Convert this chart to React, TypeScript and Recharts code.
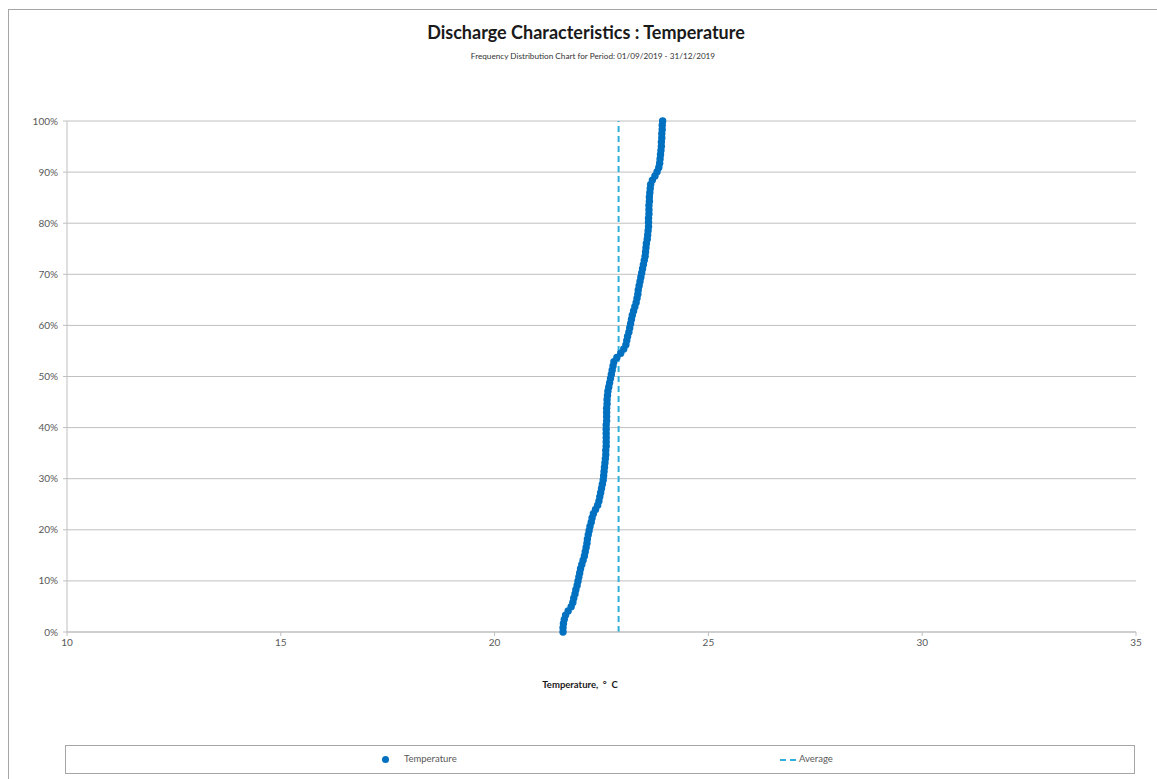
import {
  ScatterChart,
  Scatter,
  XAxis,
  YAxis,
  CartesianGrid,
  ReferenceLine,
} from "recharts";

const DOT    = "#0070c0";
const AVG    = "#2fb0da";
const GRID   = "#c0c0c0";
const AXIS   = "#bfbfbf";
const TEXT   = "#595959";
const FONT   = "Lato, 'Open Sans', sans-serif";

// sorted daily temperatures, 01/09/2019 - 31/12/2019
const TEMPS = [
  21.60, 21.60, 21.61, 21.63, 21.66, 21.72, 21.79, 21.83, 21.85, 21.88,
  21.90, 21.93, 21.95, 21.97, 21.99, 22.01, 22.04, 22.07, 22.10, 22.12,
  22.14, 22.16, 22.17, 22.19, 22.21, 22.23, 22.26, 22.28, 22.31, 22.36,
  22.41, 22.44, 22.46, 22.48, 22.50, 22.52, 22.54, 22.55, 22.56, 22.57,
  22.58, 22.59, 22.60, 22.60, 22.61, 22.61, 22.61, 22.61, 22.61, 22.61,
  22.62, 22.62, 22.62, 22.62, 22.63, 22.63, 22.64, 22.65, 22.67, 22.69,
  22.71, 22.73, 22.75, 22.77, 22.79, 22.86, 22.95, 23.02, 23.07, 23.09,
  23.11, 23.14, 23.16, 23.18, 23.20, 23.22, 23.25, 23.28, 23.31, 23.33,
  23.35, 23.36, 23.38, 23.40, 23.42, 23.44, 23.46, 23.48, 23.50, 23.52,
  23.53, 23.54, 23.55, 23.57, 23.58, 23.59, 23.60, 23.60, 23.60, 23.61,
  23.61, 23.61, 23.62, 23.62, 23.63, 23.64, 23.65, 23.69, 23.75, 23.80,
  23.84, 23.86, 23.87, 23.88, 23.89, 23.90, 23.90, 23.91, 23.91, 23.92,
  23.92, 23.93,
];
const AVERAGE = 22.9;

const X_TICKS = [10, 15, 20, 25, 30, 35];
const Y_TICKS = [0, 0.1, 0.2, 0.3, 0.4, 0.5, 0.6, 0.7, 0.8, 0.9, 1];

// cumulative frequency: rank of each sorted reading
const points = TEMPS.map((t, i) => ({ temp: t, freq: i / (TEMPS.length - 1) }));

function Dot(props: any) {
  const { cx, cy } = props;
  if (cx == null || cy == null) return null;
  return <circle cx={cx} cy={cy} r={3.7} fill={DOT} />;
}

function LegendBox() {
  return (
    <div style={{
      position: "absolute", left: 65, top: 745, width: 1070, height: 29,
      border: "1px solid #a6a6a6", boxSizing: "border-box",
      fontFamily: FONT, fontSize: 9.5, color: TEXT,
    }}>
      <span style={{ position: "absolute", left: 316, top: 10, width: 7, height: 7, borderRadius: 4, background: DOT }} />
      <span style={{ position: "absolute", left: 338, top: 7 }}>Temperature</span>
      <svg style={{ position: "absolute", left: 714, top: 12 }} width={20} height={4}>
        <line x1={0} y1={2} x2={20} y2={2} stroke={AVG} strokeWidth={2} strokeDasharray="6 4" />
      </svg>
      <span style={{ position: "absolute", left: 733, top: 7 }}>Average</span>
    </div>
  );
}

export default function App() {
  return (
    <div style={{ position: "absolute", left: 0, top: 0, width: 1157, height: 779, overflow: "hidden", background: "#fff" }}>
      {/* outer frame, cut off on the right and bottom */}
      <div style={{ position: "absolute", left: 8, top: 9, width: 1149, height: 770, borderLeft: "1px solid #a6a6a6", borderTop: "1px solid #a6a6a6" }} />

      <div style={{ position: "absolute", left: 0, top: 21, width: 1172, textAlign: "center", fontFamily: FONT, fontWeight: 700, fontSize: 18, color: "#1a1a1a" }}>
        Discharge Characteristics : Temperature
      </div>
      <div style={{ position: "absolute", left: 0, top: 51, width: 1186, textAlign: "center", fontFamily: FONT, fontSize: 8.2, color: "#333333" }}>
        Frequency Distribution Chart for Period: 01/09/2019 - 31/12/2019
      </div>

      <div style={{ position: "absolute", left: 0, top: 0 }}>
        <ScatterChart width={1157} height={779} margin={{ top: 121, right: 21, bottom: 117, left: 17 }}>
          <CartesianGrid stroke={GRID} vertical={false} />
          <XAxis
            type="number"
            dataKey="temp"
            domain={[10, 35]}
            ticks={X_TICKS}
            allowDataOverflow
            height={30}
            stroke={AXIS}
            tickSize={4}
            tickMargin={3}
            tick={{ fill: TEXT, fontSize: 10, fontFamily: FONT }}
          />
          <YAxis
            type="number"
            dataKey="freq"
            domain={[0, 1]}
            ticks={Y_TICKS}
            width={50}
            stroke={AXIS}
            tickSize={4}
            tickMargin={5}
            tickFormatter={(v: number) => `${Math.round(v * 100)}%`}
            tick={{ fill: TEXT, fontSize: 10, fontFamily: FONT }}
          />
          <ReferenceLine x={AVERAGE} stroke={AVG} strokeWidth={2} strokeDasharray="6 4" />
          <Scatter name="Temperature" data={points} shape={Dot} isAnimationActive={false} />
        </ScatterChart>
      </div>

      <div style={{ position: "absolute", left: 0, top: 679, width: 1160, textAlign: "center", fontFamily: FONT, fontWeight: 700, fontSize: 9.5, color: "#1a1a1a" }}>
        Temperature,&nbsp; °&nbsp; C
      </div>

      <LegendBox />
    </div>
  );
}
